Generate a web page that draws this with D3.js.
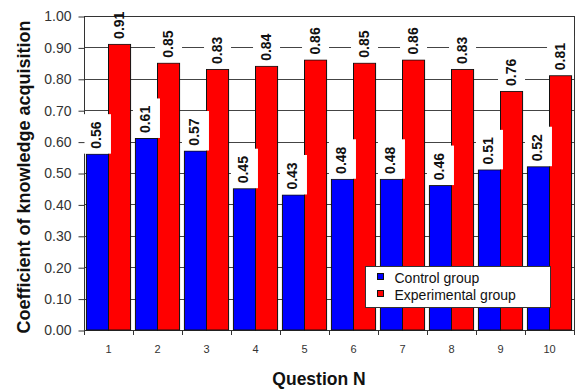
<!DOCTYPE html>
<html>
<head>
<meta charset="utf-8">
<script src="https://cdn.jsdelivr.net/npm/d3@7"></script>
<style>
  html, body { margin: 0; padding: 0; background: #fff; }
  svg { display: block; font-family: Arial, "Liberation Sans", sans-serif; }
</style>
</head>
<body>
<svg id="chart" width="576" height="392"></svg>
<script>
// Questions and coefficients of knowledge acquisition per group
const questions = ["1", "2", "3", "4", "5", "6", "7", "8", "9", "10"];
const controlValues = [0.56, 0.61, 0.57, 0.45, 0.43, 0.48, 0.48, 0.46, 0.51, 0.52];
const experimentalValues = [0.91, 0.85, 0.83, 0.84, 0.86, 0.85, 0.86, 0.83, 0.76, 0.81];
const seriesNames = ["Control group", "Experimental group"];
const seriesColors = ["#0000ff", "#ff0000"];
const yTicks = [0, 0.1, 0.2, 0.3, 0.4, 0.5, 0.6, 0.7, 0.8, 0.9, 1.0];
const yTitle = "Coefficient of knowledge acquisition";
const xTitle = "Question N";

const svg = d3.select("#chart");
const plotLeft = 84, plotRight = 574, plotTop = 16, plotBottom = 330;

const x = d3.scaleBand().domain(questions).range([plotLeft, plotRight]).padding(0);
const inner = d3.scaleBand().domain([0, 1]).range([0, x.bandwidth()])
  .paddingInner(0).paddingOuter(0.11);
const y = d3.scaleLinear().domain([0, 1]).range([plotBottom, plotTop]);

const rows = questions.map((q, i) => ({ q, vals: [controlValues[i], experimentalValues[i]] }));

// label boxes stay inside the plot area
svg.append("defs").append("clipPath").attr("id", "plot-clip")
  .append("rect")
  .attr("x", 0).attr("y", Math.round(y(1)) + 1)
  .attr("width", 576).attr("height", Math.round(y(0)) - Math.round(y(1)));

// horizontal gridlines
svg.append("g").selectAll("line").data(yTicks).join("line")
  .attr("x1", plotLeft).attr("x2", plotRight)
  .attr("y1", d => Math.round(y(d)) + 0.5).attr("y2", d => Math.round(y(d)) + 0.5)
  .attr("stroke", "#444").attr("stroke-width", 1);

// plot frame
svg.append("rect")
  .attr("x", plotLeft + 0.5).attr("y", Math.round(y(1)) + 0.5)
  .attr("width", plotRight - plotLeft).attr("height", Math.round(y(0)) - Math.round(y(1)))
  .attr("fill", "none").attr("stroke", "#333").attr("stroke-width", 1);

// bars
const groups = svg.append("g").selectAll("g").data(rows).join("g")
  .attr("transform", d => `translate(${x(d.q)},0)`);

groups.selectAll("rect.bar").data(d => d.vals.map((v, k) => ({ v, k }))).join("rect")
  .attr("class", "bar")
  .attr("x", d => inner(d.k))
  .attr("y", d => y(d.v))
  .attr("width", inner.bandwidth())
  .attr("height", d => y(0) - y(d.v))
  .attr("fill", d => seriesColors[d.k])
  .attr("stroke", "#111").attr("stroke-width", 1);

// value labels: white boxes with rotated text above each bar
const labelData = rows.flatMap(r => r.vals.map((v, k) => ({ q: r.q, v, k })));
const barCenter = d => x(d.q) + inner(d.k) + inner.bandwidth() / 2;

svg.append("g").attr("clip-path", "url(#plot-clip)")
  .selectAll("rect").data(labelData).join("rect")
  .attr("x", d => barCenter(d) - 13.5).attr("y", d => y(d.v) - 40)
  .attr("width", 27).attr("height", 39.5)
  .attr("fill", "#fff");

svg.append("g").selectAll("text").data(labelData).join("text")
  .attr("transform", d => `translate(${barCenter(d) + 4},${y(d.v) - 19}) rotate(-90)`)
  .attr("text-anchor", "middle")
  .attr("font-size", 14).attr("font-weight", "bold").attr("fill", "#111")
  .text(d => d3.format(".2f")(d.v));

// y axis ticks and labels
const yAxis = d3.axisLeft(y).tickValues(yTicks).tickFormat(d3.format(".2f"))
  .tickSize(6).tickPadding(7);
const yg = svg.append("g").attr("transform", `translate(${plotLeft + 0.5},0.5)`).call(yAxis);
yg.select(".domain").remove();
yg.selectAll(".tick line").attr("stroke", "#333");
yg.selectAll(".tick text").attr("font-size", 14).attr("fill", "#333")
  .attr("font-family", "Arial, 'Liberation Sans', sans-serif");

// x axis: labels at category centres, ticks at category boundaries
const xAxis = d3.axisBottom(x).tickSize(0).tickPadding(15);
const xg = svg.append("g").attr("transform", `translate(0,${plotBottom})`).call(xAxis);
xg.select(".domain").remove();
xg.selectAll(".tick text").attr("font-size", 11).attr("fill", "#333")
  .attr("font-family", "Arial, 'Liberation Sans', sans-serif");

const boundaries = questions.map(q => x(q)).concat([plotRight]);
svg.append("g").selectAll("line").data(boundaries).join("line")
  .attr("x1", d => Math.round(d) + 0.5).attr("x2", d => Math.round(d) + 0.5)
  .attr("y1", plotBottom).attr("y2", plotBottom + 5)
  .attr("stroke", "#333");

// axis titles
svg.append("text")
  .attr("transform", `translate(30,${(plotTop + plotBottom) / 2 + 4}) rotate(-90)`)
  .attr("text-anchor", "middle")
  .attr("font-size", 18).attr("font-weight", "bold").attr("fill", "#111")
  .text(yTitle);

svg.append("text")
  .attr("x", 319).attr("y", 385)
  .attr("text-anchor", "middle")
  .attr("font-size", 17.5).attr("font-weight", "bold").attr("fill", "#111")
  .text(xTitle);

// legend
const legend = svg.append("g").attr("transform", "translate(365.5,266.5)");
legend.append("rect")
  .attr("width", 185).attr("height", 41)
  .attr("fill", "#fff").attr("stroke", "#333");
const items = legend.selectAll("g").data(seriesNames).join("g")
  .attr("transform", (d, i) => `translate(0,${i * 17})`);
items.append("rect")
  .attr("x", 12).attr("y", 7).attr("width", 6).attr("height", 6)
  .attr("fill", (d, i) => seriesColors[i]).attr("stroke", "#111");
items.append("text")
  .attr("x", 29).attr("y", 16)
  .attr("font-size", 14).attr("fill", "#111")
  .text(d => d);
</script>
</body>
</html>
